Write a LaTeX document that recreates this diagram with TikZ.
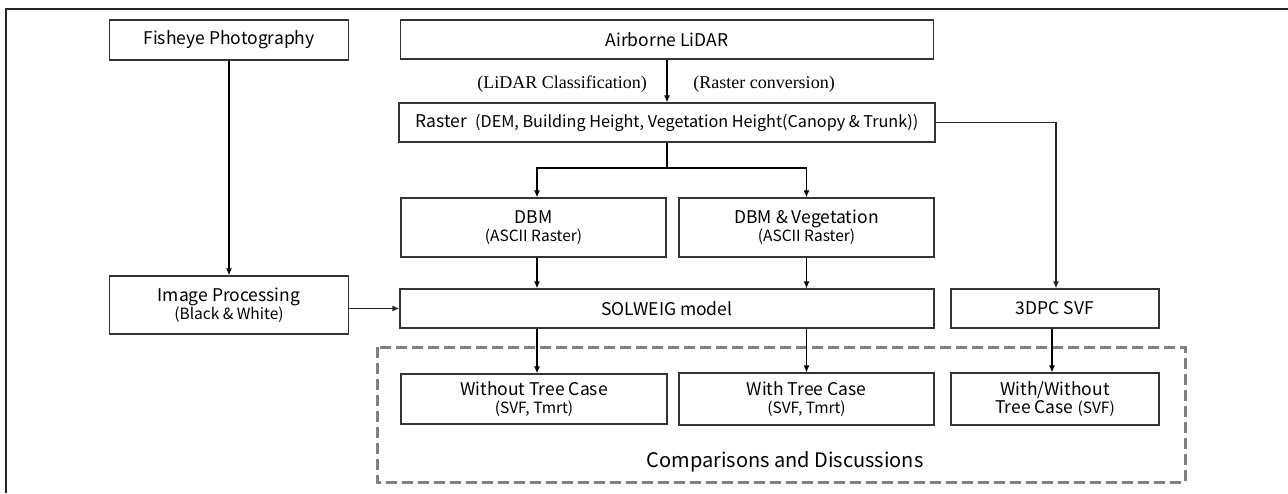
\documentclass[tikz,border=0pt]{standalone}
\usepackage{fontspec}
\setmainfont{Noto Sans CJK KR}
\newfontfamily\labelserif{Liberation Serif}
\usetikzlibrary{arrows.meta,calc}

\tikzset{
  box/.style={draw=black!80, line width=1.1pt, fill=white, inner sep=0pt,
              align=center, font=\fontsize{17.5}{21}\selectfont},
  arr/.style={draw=black, line width=1.8pt, -{Latex[length=7pt,width=6pt]}},
  thinarr/.style={draw=black!85, line width=1.4pt, -{Latex[length=7pt,width=6pt]}},
  link/.style={draw=black, line width=1.8pt},
  steplabel/.style={font=\labelserif\fontsize{18}{20}\selectfont, inner sep=0pt},
  groupframe/.style={draw=black!50, line width=3pt, dash pattern=on 11pt off 5pt},
}

\newcommand{\sublabel}[1]{{\fontsize{15.5}{18}\selectfont #1}}

\begin{document}
\begin{tikzpicture}[x=1pt, y=-1pt]
  \useasboundingbox (0,0) rectangle (1288,493);
  % page frame (left and top edges)
  \draw[draw=black!85, line width=2pt] (6,493) -- (6,9) -- (1288,9);

  % comparison group
  \draw[groupframe] (377,347) rectangle (1185,482);
  \node[font=\fontsize{20}{24}\selectfont, inner sep=0pt] (cmp) at (785,462) {Comparisons and Discussions};

  % input data
  \node[box, minimum width=239pt, minimum height=40pt] (fish) at (229,40) {Fisheye Photography};
  \node[box, minimum width=533pt, minimum height=39pt] (air) at (667,39.5) {Airborne LiDAR};
  \node[box, minimum width=536pt, minimum height=39pt] (ras) at (667,122.5)
    {Raster \ {\fontsize{16.2}{20}\selectfont(DEM, Building Height, Vegetation Height(Canopy \& Trunk))}};

  % preprocessing labels
  \node[steplabel] (cls) at (562,84) {(LiDAR Classification)};
  \node[steplabel] (conv) at (764,84) {(Raster conversion)};

  % surface models
  \node[box, minimum width=265pt, minimum height=59pt] (dbm) at (533.5,227.5)
    {DBM\\[-3pt]\sublabel{(ASCII Raster)}};
  \node[box, minimum width=255pt, minimum height=59pt] (dbmv) at (806.5,227.5)
    {DBM \& Vegetation\\[-3pt]\sublabel{(ASCII Raster)}};

  % processing
  \node[box, minimum width=239pt, minimum height=58pt] (img) at (229,305)
    {Image Processing\\[-3pt]\sublabel{(Black \& White)}};
  \node[box, minimum width=534pt, minimum height=39pt] (sol) at (667,308.5) {SOLWEIG model};
  \node[box, minimum width=208pt, minimum height=39pt] (pc) at (1055,308.5) {3DPC SVF};

  % results
  \node[box, minimum width=266pt, minimum height=50pt] (wo) at (534,399)
    {Without Tree Case\\[-3pt]\sublabel{(SVF, Tmrt)}};
  \node[box, minimum width=255pt, minimum height=52pt] (wt) at (806.5,399)
    {With Tree Case\\[-3pt]\sublabel{(SVF, Tmrt)}};
  \node[box, minimum width=208pt, minimum height=52pt] (ww) at (1055,399)
    {With/Without\\[-3pt]Tree Case \sublabel{(SVF)}};

  % connectors
  \draw[arr] (fish.south) -- (img.north);
  \draw[arr] (air.south) -- (ras.north);
  \coordinate (split) at (667,168);
  \draw[link] (ras.south) -- (split);
  \draw[arr] (split) -| ($(dbm.north)+(3.5,0)$);
  \draw[arr] (split) -| (dbmv.north);
  \draw[arr] ($(dbm.south)+(3.5,0)$) -- ($(sol.north -| dbm.south)+(3.5,0)$);
  \draw[arr] (dbmv.south) -- (sol.north -| dbmv.south);
  \draw[thinarr] (img.east |- sol.west) -- (sol.west);
  \draw[thinarr] (ras.east) -| ($(pc.north)+(1,0)$);
  \draw[arr] ($(sol.south -| wo.north)+(3,0)$) -- ($(wo.north)+(3,0)$);
  \draw[arr] (sol.south -| wt.north) -- (wt.north);
  \draw[arr] ($(pc.south)+(-3,0)$) -- ($(ww.north)+(-3,0)$);
\end{tikzpicture}
\end{document}
